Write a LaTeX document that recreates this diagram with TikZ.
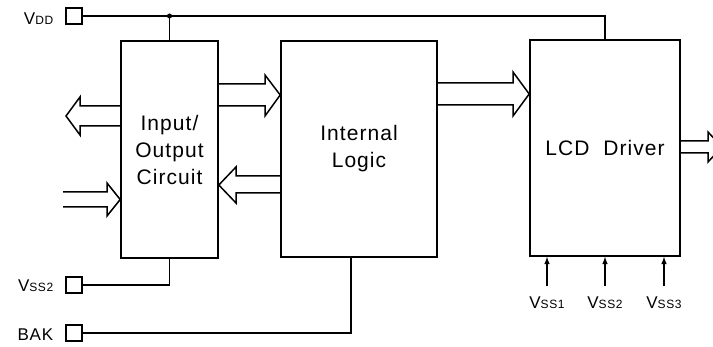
\documentclass[tikz,border=0pt]{standalone}
\usepackage{fontspec}
\setmainfont{Liberation Sans}[LetterSpace=5]
\usetikzlibrary{positioning}
\newcommand{\pinsub}[1]{{\fontsize{12}{14}\selectfont #1}}

\begin{document}
\begin{tikzpicture}[x=1pt, y=-1pt, >=latex, line width=1.5pt,
          block/.style={draw, line width=1.6pt, align=center, font=\fontsize{21}{27}\selectfont},
          pad/.style={draw, minimum size=16pt, inner sep=0pt},
          padlabel/.style={anchor=east, inner sep=0pt, font=\fontsize{17}{17}\selectfont},
          vsslabel/.style={inner sep=0pt, font=\fontsize{17}{17}\selectfont},
          bus/.style={line join=miter}]
        \useasboundingbox (0,0) rectangle (713,347);
        % blocks
        \node[block, minimum width=97pt, minimum height=217pt] (io) at (169.5,149.5) {Input/\\Output\\Circuit};
        \node[block, minimum width=156pt, minimum height=216pt] (logic) at (359,149) {Internal\\Logic};
        \node[block, minimum width=150pt, minimum height=216pt] (drv) at (605,148) {LCD\ \ Driver};
        % pads
        \node[pad] (vdd) at (74,16) {};
        \node[pad] (vss) at (74,285) {};
        \node[pad] (bak) at (74,333) {};
        \node[padlabel] (vddlbl) at (54,18.5) {V\pinsub{DD}};
        \node[padlabel] (vsslbl) at (54,285.5) {V\pinsub{SS2}};
        \node[padlabel] (baklbl) at (54,335) {BAK};
        \node[vsslabel] (s1) at (547,303) {V\pinsub{SS1}};
        \node[vsslabel] (s2) at (605,303) {V\pinsub{SS2}};
        \node[vsslabel] (s3) at (664,303) {V\pinsub{SS3}};
        % supply lines
        \draw (vdd.east) -- (drv.north |- vdd.east) -- (drv.north);
        \fill (io.north |- vdd.east) circle (2.5pt);
        \draw (io.north |- vdd.east) -- (io.north);
        \draw (vss.east) -- (io.south |- vss.east) -- (io.south);
        \coordinate (baktap) at ([xshift=-8pt]logic.south);
        \draw (bak.east) -- (baktap |- bak.east) -- (baktap);
        \draw[->] ([yshift=10pt]s1.north) -- (s1.north |- drv.south);
        \draw[->] ([yshift=10pt]s2.north) -- (s2.north |- drv.south);
        \draw[->] ([yshift=10pt]s3.north) -- (s3.north |- drv.south);
        % buses
        \coordinate (iotip) at (66,116);
        \coordinate (iotail) at (63,199.5);
        \coordinate (drvtip) at (722,147);
        \draw[bus] (io.east |- 0,84) -- (265,84) -- (265,75) -- (logic.west |- 0,95) -- (265,116) -- (265,106) -- (io.east |- 0,106);
        \draw[bus] (logic.west |- 0,176) -- (236,176) -- (236,167) -- (io.east |- 0,185) -- (236,203) -- (236,193) -- (logic.west |- 0,193);
        \draw[bus] (io.west |- 0,106) -- (80,106) -- (80,97) -- (iotip) -- (80,135) -- (80,126) -- (io.west |- 0,126);
        \draw[bus] (iotail |- 0,192) -- (107,192) -- (107,183) -- (io.west |- iotail) -- (107,216) -- (107,207) -- (iotail |- 0,207);
        \draw[bus] (logic.east |- 0,83) -- (513,83) -- (513,72) -- (drv.west |- 0,94) -- (513,116) -- (513,105) -- (logic.east |- 0,105);
        \draw[bus] (drv.east |- 0,141) -- (708,141) -- (708,132) -- (drvtip) -- (708,162) -- (708,153) -- (drv.east |- 0,153);
      \end{tikzpicture}
\end{document}
